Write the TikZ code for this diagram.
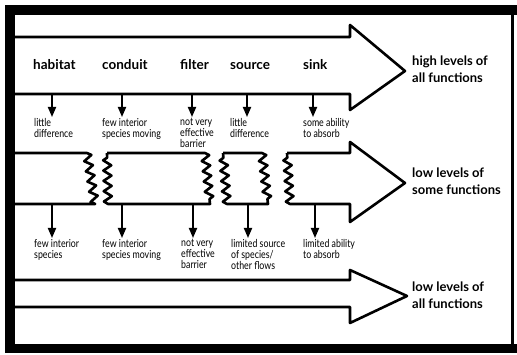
\documentclass[tikz,border=0pt]{standalone}
\usepackage{fontspec}
\setmainfont{Lato}
\newfontfamily\narrowfont[FakeStretch=0.8]{Lato}
\usetikzlibrary{arrows.meta,decorations.pathmorphing}
\tikzset{
  bigarrow/.style={line width=2.6pt,line join=round},
  zz/.style={decoration={zigzag,segment length=10.3pt,amplitude=4pt}},
  fnlabel/.style={font=\bfseries\fontsize{13.5}{15}\selectfont,anchor=base west,inner sep=0pt},
  lvllabel/.style={font=\bfseries\fontsize{13}{17}\selectfont,anchor=north west,inner sep=0pt,align=left},
  note/.style={font=\narrowfont\fontsize{11}{11}\selectfont,anchor=north west,inner sep=0pt,align=left},
  effect/.style={line width=1.8pt,-{Triangle[width=8pt,length=10pt]},shorten >=1pt},
}

\begin{document}
\begin{tikzpicture}[x=1pt,y=-1pt]
  \useasboundingbox (0,0) rectangle (517,355);
  \fill (5,5) rectangle (517,15);
  \fill (5,5) rectangle (15,353);
  \fill (5,344) rectangle (517,353);
  \fill (511,5) rectangle (514,353);

  % high levels
  \draw[bigarrow] (15,37) -- (350,37) -- (350,25) -- (405,71) -- (350,110) -- (350,94) -- (15,94);
  % broken corridor
  \draw[bigarrow,zz] (15,153) -- (87,153) decorate {-- (95,204)} -- (15,204);
  \draw[bigarrow,zz] (107,153) -- (205,153) decorate {-- (210,204)} -- (108,204) decorate {-- (107,153)};
  \draw[bigarrow,zz] (223,153) -- (262,153) decorate {-- (268,204)} -- (227,204) decorate {-- (223,153)};
  \draw[bigarrow,zz] (287,153) -- (350,153) -- (350,142) -- (405,183) -- (350,222) -- (350,204) -- (290,204) decorate {-- (287,153)};
  % low levels
  \draw[bigarrow] (15,280) -- (350,280) -- (350,270) -- (407,296) -- (350,323) -- (350,307) -- (15,307);

  \node[fnlabel] (habitat) at (33,70) {habitat};
  \node[fnlabel] (conduit) at (102,70) {conduit};
  \node[fnlabel] (filter) at (180,70) {filter};
  \node[fnlabel] (source) at (230,70) {source};
  \node[fnlabel] (sink) at (303,70) {sink};

  \node[lvllabel] (high) at (412,56) {high levels of\\all functions};
  \node[lvllabel] (some) at (412,168) {low levels of\\some functions};
  \node[lvllabel] (low) at (412,282) {low levels of\\all functions};

  \coordinate (t1) at (52,94);
  \coordinate (t2) at (122,94);
  \coordinate (t3) at (192,94);
  \coordinate (t4) at (247,94);
  \coordinate (t5) at (313,94);
  \coordinate (m1) at (52,204);
  \coordinate (m2) at (122,204);
  \coordinate (m3) at (193,204);
  \coordinate (m4) at (248,204);
  \coordinate (m5) at (315,204);

  \node[note] (d1) at (34,118) {little\\difference};
  \node[note] (d2) at (102,118) {few interior\\species moving};
  \node[note] (d3) at (180,118) {not very\\effective\\barrier};
  \node[note] (d4) at (230,118) {little\\difference};
  \node[note] (d5) at (303,118) {some ability\\to absorb};

  \node[note] (e1) at (34,239) {few interior\\species};
  \node[note] (e2) at (102,239) {few interior\\species moving};
  \node[note] (e3) at (181,239) {not very\\effective\\barrier};
  \node[note] (e4) at (231,239) {limited source\\of species/\\other flows};
  \node[note] (e5) at (303,239) {limited ability\\to absorb};

  \foreach \i in {1,...,5} {
    \draw[effect] (t\i) -- (t\i |- d\i.north);
    \draw[effect] (m\i) -- (m\i |- e\i.north);
  }
\end{tikzpicture}
\end{document}
